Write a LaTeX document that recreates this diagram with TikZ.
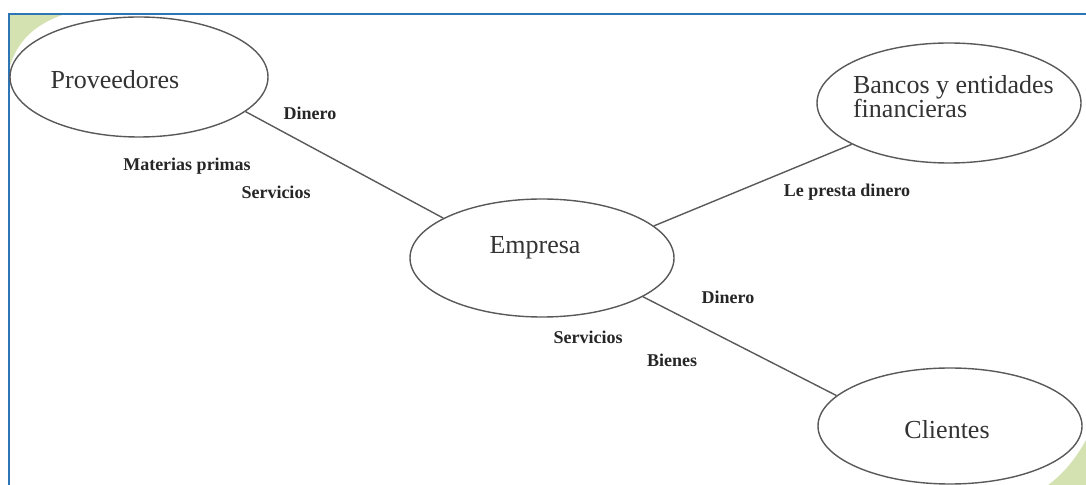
\documentclass[tikz,border=0pt]{standalone}
\usepackage{fontspec}
\setmainfont{Liberation Serif}
\usetikzlibrary{shapes.geometric}
\definecolor{frameblue}{HTML}{2E75B6}
\definecolor{leafgreen}{HTML}{D3E2B0}

\begin{document}
\begin{tikzpicture}[x=0.5pt, y=-0.5pt,
	actor/.style={ellipse, draw=black!65, fill=white, line width=0.7pt, inner sep=0pt, minimum width=132pt, minimum height=59pt},
	link/.style={draw=black!65, line width=0.7pt},
	flow/.style={font=\fontsize{9}{10}\selectfont\bfseries, text=black!85},
	title/.style={font=\fontsize{13}{12}\selectfont, text=black!80}]
		\useasboundingbox (0,0) rectangle (1086,485);
		%green corners
		\fill[leafgreen] (10,15) -- (62,15) .. controls (35,25) and (18,40) .. (10,66) -- cycle;
		\fill[leafgreen] (1086,440) .. controls (1075,460) and (1062,475) .. (1048,485) -- (1086,485) -- cycle;
		%frame
		\draw[frameblue, line width=1.2pt] (9,485) -- (9,14) -- (1086,14);

		%ellipses
		\node[actor, minimum width=129pt, minimum height=60pt] (prov) at (139,77) {};
		\node[actor] (emp) at (542,258) {};
		\node[actor, minimum height=60pt] (banco) at (949,103) {};
		\node[actor, minimum height=58pt] (cli) at (950,426) {};

		\node[title] (provtxt) at (115,80) {Proveedores};
		\node[title] (emptxt) at (535,248) {Empresa};
		\node[title, anchor=west, align=left] (bancotxt) at (846,97) {Bancos y entidades\\financieras};
		\node[title] (clitxt) at (947,430) {Clientes};

		%links
		\draw[link] (prov.-18) -- (emp.158);
		\draw[link] (emp.16) -- (banco.-157);
		\draw[link] (emp.-21) -- (cli.165);

		%flows
		\node[flow] (dinprov) at (310,113) {Dinero};
		\node[flow] (materias) at (187,166) {Materias primas};
		\node[flow] (servprov) at (276,192) {Servicios};
		\node[flow] (presta) at (847,192) {Le presta dinero};
		\node[flow] (dincli) at (728,297) {Dinero};
		\node[flow] (servcli) at (588,337) {Servicios};
		\node[flow] (bienes) at (672,360) {Bienes};
\end{tikzpicture}
\end{document}
